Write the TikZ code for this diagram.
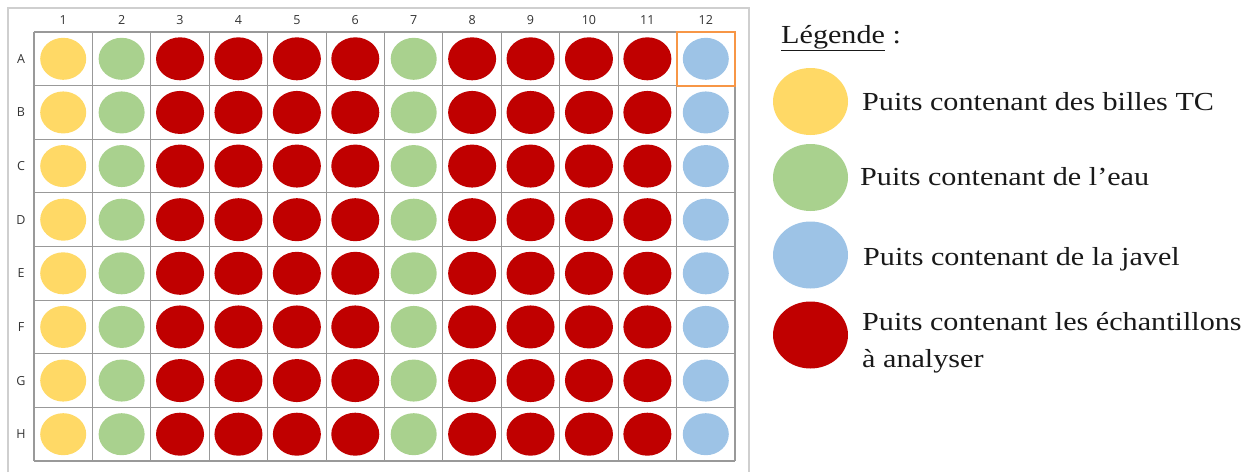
\documentclass[tikz,border=0pt]{standalone}
\usepackage{fontspec}
\setmainfont{Liberation Serif}
\newfontfamily\legfont[FakeStretch=1.16]{Liberation Serif}
\newfontfamily\labelfont{Open Sans}
\usetikzlibrary{shapes.geometric}
\definecolor{wyellow}{HTML}{FFD966}
\definecolor{wgreen}{HTML}{A9D18E}
\definecolor{wblue}{HTML}{9DC3E6}
\definecolor{wred}{HTML}{C00000}
\definecolor{worange}{HTML}{F79646}
\definecolor{gridgrey}{HTML}{999999}
\definecolor{framegrey}{HTML}{CFCFCF}
\definecolor{labgrey}{HTML}{333333}
\tikzset{
  well/.style={ellipse, inner sep=0pt, minimum width=46pt, minimum height=42pt, draw=none},
  redwell/.style={well, minimum width=48pt, minimum height=43pt, fill=wred},
  legwell/.style={ellipse, inner sep=0pt, minimum width=75pt, minimum height=67pt, draw=none},
  axlabel/.style={font=\labelfont\fontsize{12.5}{12.5}\selectfont, text=labgrey, inner sep=0pt},
  legtext/.style={font=\legfont\fontsize{26}{37}\selectfont, text=black!90, anchor=base west, inner sep=0pt, align=left},
}
\begin{document}
\begin{tikzpicture}[x=1pt,y=-1pt]
\useasboundingbox (0,0) rectangle (1253,472);
% outer frame
\draw[framegrey, line width=1.2pt] (8,472) -- (8,8) -- (749,8) -- (749,472);
% grid
\def\gx{34}\def\gy{32}\def\cw{58.4167}\def\rh{53.625}
\foreach \i in {0,...,12}{
  \draw[gridgrey, line width=1.1pt] ({\gx+\i*\cw},\gy) -- ({\gx+\i*\cw},461);
}
\foreach \j in {0,...,8}{
  \draw[gridgrey, line width=1.1pt] (\gx,{\gy+\j*\rh}) -- (735,{\gy+\j*\rh});
}
% column labels
\foreach \c in {1,...,12}{
  \node[axlabel] (col\c) at ({\gx+(\c-0.5)*\cw},20) {\c};
}
% row labels and wells
\foreach \r [count=\ri] in {A,B,C,D,E,F,G,H}{
  \node[axlabel] (row\r) at (21,{\gy+(\ri-0.5)*\rh}) {\r};
  \node[well, fill=wyellow] (w\r1) at ({\gx+0.5*\cw},{\gy+(\ri-0.5)*\rh}) {};
  \node[well, fill=wgreen] (w\r2) at ({\gx+1.5*\cw},{\gy+(\ri-0.5)*\rh}) {};
  \node[well, fill=wgreen] (w\r7) at ({\gx+6.5*\cw},{\gy+(\ri-0.5)*\rh}) {};
  \node[well, fill=wblue] (w\r12) at ({\gx+11.5*\cw},{\gy+(\ri-0.5)*\rh}) {};
  \foreach \c in {3,4,5,6,8,9,10,11}{
    \node[redwell] (w\r\c) at ({\gx+(\c-0.5)*\cw},{\gy+(\ri-0.5)*\rh}) {};
  }
}
% highlight A12
\draw[worange, line width=2pt] ({\gx+11*\cw},\gy) rectangle (735,{\gy+\rh});
% legend
\node[legtext] (legtitle) at (781,43) {\underline{Légende} :};
\node[legwell, fill=wyellow] (legY) at (810.5,101.5) {};
\node[legwell, fill=wgreen] (legG) at (810.5,177.5) {};
\node[legwell, fill=wblue] (legB) at (810.5,255) {};
\node[legwell, fill=wred] (legR) at (810.5,335) {};
\node[legtext] (txtY) at (862,110) {Puits contenant des billes TC};
\node[legtext] (txtG) at (860,185) {Puits contenant de l’eau};
\node[legtext] (txtB) at (863,265) {Puits contenant de la javel};
\node[legtext] (txtR1) at (862,330) {Puits contenant les échantillons};
\node[legtext] (txtR2) at (862,367) {à analyser};
\end{tikzpicture}
\end{document}
